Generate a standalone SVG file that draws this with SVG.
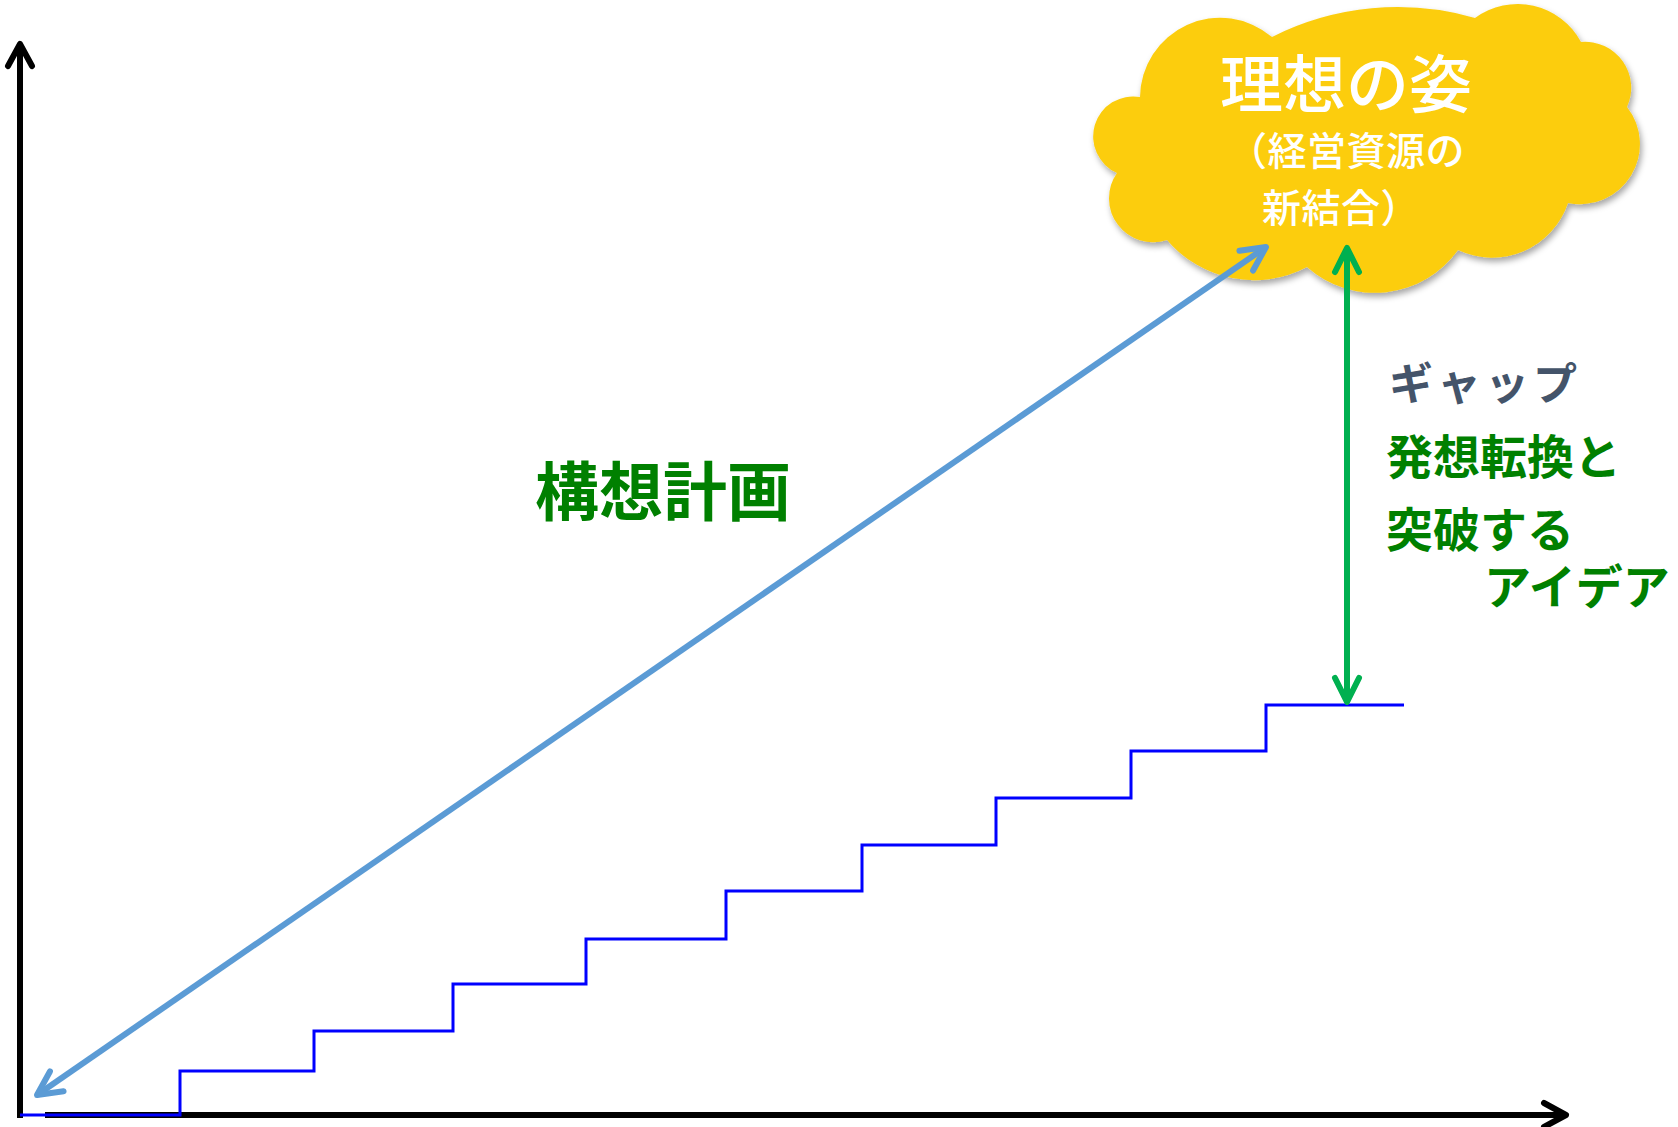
<svg xmlns="http://www.w3.org/2000/svg" width="1678" height="1127" viewBox="0 0 1678 1127">
  <style>
    .axis { stroke: #000000; stroke-width: 6; fill: none; }
    .stairs { stroke: #0000FF; stroke-width: 3; fill: none; }
    .plan { stroke: #5B9BD5; stroke-width: 6; fill: none; }
    .gap { stroke: #00B050; stroke-width: 6; fill: none; }
    .cloud { fill: #FCCD0D; }
    .jp { font-family: "Noto Sans CJK JP", "Noto Sans", sans-serif; }
    .cloudtitle { fill: #FFFFFF; font-size: 63px; font-weight: 500; }
    .cloudsub { fill: #FFFFFF; font-size: 39px; font-weight: 500; letter-spacing: 0.5px; }
    .gaplabel { fill: #44546A; font-size: 44px; font-weight: 700; letter-spacing: 4px; }
    .green { fill: #008000; font-weight: 700; }
  </style>
  <defs>
    <filter id="shadow" x="-10%" y="-10%" width="120%" height="130%">
      <feDropShadow dx="2" dy="4" stdDeviation="3" flood-color="#000000" flood-opacity="0.35"/>
    </filter>
    <marker id="arrBlack" markerUnits="userSpaceOnUse" viewBox="-30 -16 36 32" refX="0" refY="0" markerWidth="36" markerHeight="32" orient="auto-start-reverse" overflow="visible">
      <path d="M -22 -12 L 0 0 L -22 12" fill="none" stroke="#000000" stroke-width="6" stroke-linecap="round" stroke-linejoin="round"/>
    </marker>
    <marker id="arrBlue" markerUnits="userSpaceOnUse" viewBox="-30 -16 36 32" refX="0" refY="0" markerWidth="36" markerHeight="32" orient="auto-start-reverse" overflow="visible">
      <path d="M -24 -12 L 0 0 L -24 12" fill="none" stroke="#5B9BD5" stroke-width="6" stroke-linecap="round" stroke-linejoin="round"/>
    </marker>
    <marker id="arrGreen" markerUnits="userSpaceOnUse" viewBox="-30 -16 36 32" refX="0" refY="0" markerWidth="36" markerHeight="32" orient="auto-start-reverse" overflow="visible">
      <path d="M -24 -12 L 0 0 L -24 12" fill="none" stroke="#00B050" stroke-width="6" stroke-linecap="round" stroke-linejoin="round"/>
    </marker>
  </defs>

  <g id="axes">
    <line class="axis" x1="20" y1="1118" x2="20" y2="44" marker-end="url(#arrBlack)"/>
    <line class="axis" x1="45" y1="1115" x2="1566" y2="1115" marker-end="url(#arrBlack)"/>
  </g>

  <g id="stairs">
    <polyline class="stairs" points="20,1115 180,1115 180,1071 314,1071 314,1031 453,1031 453,984 586,984 586,939 726,939 726,891 862,891 862,845 996,845 996,798 1131,798 1131,751 1266,751 1266,705 1404,705"/>
  </g>

  <g id="ideal-cloud">
    <path class="cloud" filter="url(#shadow)" d="M 1140 97 A 80 80 0 0 1 1272 37 A 280 280 0 0 1 1475 18 A 72 72 0 0 1 1581 42 A 46 46 0 0 1 1627 107 A 60 60 0 0 1 1568 203 A 80 80 0 0 1 1458 250 A 102 102 0 0 1 1307 267 A 114 114 0 0 1 1167 240 A 44 44 0 0 1 1117 173 A 40 40 0 0 1 1140 97 Z"/>
    <text class="jp cloudtitle" x="1220" y="107">理想の姿</text>
    <text class="jp cloudsub" x="1228" y="165">（経営資源の</text>
    <text class="jp cloudsub" x="1262" y="222">新結合）</text>
  </g>

  <g id="connectors">
    <line class="plan" x1="37" y1="1095" x2="1266" y2="247" marker-start="url(#arrBlue)" marker-end="url(#arrBlue)"/>
    <line class="gap" x1="1347" y1="248" x2="1347" y2="702" marker-start="url(#arrGreen)" marker-end="url(#arrGreen)"/>
  </g>

  <g id="plan-label">
    <text class="jp green" x="535" y="515" font-size="64">構想計画</text>
  </g>

  <g id="gap-label">
    <text class="jp gaplabel" x="1389" y="400">ギャップ</text>
    <text class="jp green" x="1386" y="474" font-size="47">発想転換と</text>
    <text class="jp green" x="1386" y="547" font-size="47">突破する</text>
    <text class="jp green" x="1484" y="604" font-size="47">アイデア</text>
  </g>
</svg>
